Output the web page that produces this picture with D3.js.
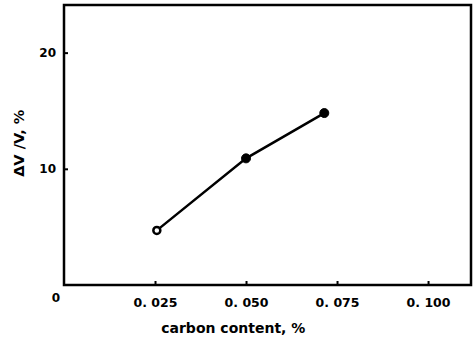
<!DOCTYPE html>
<html>
<head>
<meta charset="utf-8">
<script src="https://cdn.jsdelivr.net/npm/d3@7"></script>
<style>
  body { margin: 0; background: #fff; }
  text { font-family: "DejaVu Sans", sans-serif; font-weight: bold; fill: #000; }
</style>
</head>
<body>
<div id="chart"></div>
<script>
// data
const carbon = [0.0255, 0.050, 0.0715];
const dV = [4.7, 10.9, 14.8];
const xTicks = [0.025, 0.050, 0.075, 0.100];
const xTickLabels = ["0. 025", "0. 050", "0. 075", "0. 100"];
const yTicks = [10, 20];

let margin = {top: 5, right: 3, bottom: 54, left: 64},
  width = 474 - margin.left - margin.right,
  height = 339 - margin.top - margin.bottom;

var svg = d3.select("#chart")
  .append("svg")
    .attr("width", 474)
    .attr("height", 339)
  .append("g")
    .attr("transform", "translate(" + margin.left + "," + margin.top + ")");

var x = d3.scaleLinear().domain([0, 0.1118]).range([0, width]);
var y = d3.scaleLinear().domain([0, 24.1]).range([height, 0]);

// frame
svg.append("rect")
  .attr("width", width)
  .attr("height", height)
  .attr("fill", "none")
  .attr("stroke", "#000")
  .attr("stroke-width", 2.5);

// x axis, ticks pointing in
var xAxis = svg.append("g")
  .attr("transform", "translate(0," + height + ")")
  .call(d3.axisBottom(x).tickValues(xTicks).tickSize(-4).tickPadding(13)
    .tickFormat(function(d, i) { return xTickLabels[i]; }));
xAxis.select(".domain").remove();
xAxis.selectAll("line").attr("stroke-width", 2);
xAxis.selectAll("text").style("font-size", "12.5px").style("font-family", "DejaVu Sans");

// y axis
var yAxis = svg.append("g")
  .call(d3.axisLeft(y).tickValues(yTicks).tickSize(-4).tickPadding(8));
yAxis.select(".domain").remove();
yAxis.selectAll("line").attr("stroke-width", 2);
yAxis.selectAll("text").style("font-size", "12px").style("font-family", "DejaVu Sans");

// origin label
svg.append("text")
  .attr("x", -8)
  .attr("y", height + 17)
  .attr("text-anchor", "middle")
  .style("font-size", "12px")
  .text("0");

// line and points
var pts = carbon.map(function(c, i) { return [c, dV[i]]; });
svg.append("path")
  .datum(pts)
  .attr("fill", "none")
  .attr("stroke", "#000")
  .attr("stroke-width", 2.5)
  .attr("d", d3.line().x(function(d) { return x(d[0]); }).y(function(d) { return y(d[1]); }));

svg.selectAll("circle")
  .data(pts)
  .enter().append("circle")
    .attr("cx", function(d) { return x(d[0]); })
    .attr("cy", function(d) { return y(d[1]); })
    .attr("r", function(d, i) { return i == 0 ? 3.5 : 4.5; })
    .attr("fill", function(d, i) { return i == 0 ? "#fff" : "#000"; })
    .attr("stroke", "#000")
    .attr("stroke-width", function(d, i) { return i == 0 ? 2.5 : 1; });

// axis titles
svg.append("text")
  .attr("x", x(0.0465))
  .attr("y", height + 48)
  .attr("text-anchor", "middle")
  .style("font-size", "14px")
  .text("carbon content, %");

svg.append("text")
  .attr("transform", "translate(" + (-40) + "," + y(12.2) + ") rotate(-90)")
  .attr("text-anchor", "middle")
  .style("font-size", "14.5px")
  .text("ΔV /V, %");
</script>
</body>
</html>
